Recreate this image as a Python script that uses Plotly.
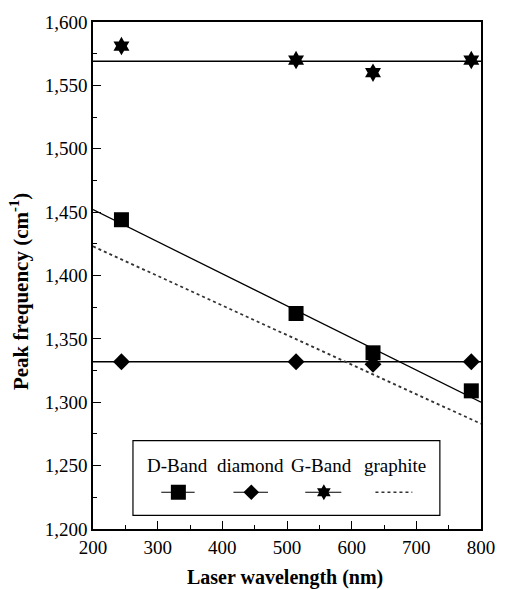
import plotly.graph_objects as go

# ---- data ----
wavelength = [244, 514, 633, 785]
d_band = [1444, 1370, 1339, 1309]
diamond = [1332, 1332, 1330, 1332]
g_band = [1581, 1570, 1560, 1570]

fit_x = [200, 800]
d_band_fit = [1452, 1300]
diamond_fit = [1332, 1332]
g_band_fit = [1569, 1569]
graphite = [1423, 1283]

legend_names = ["D-Band", "diamond", "G-Band", "graphite"]

FONT = "'Liberation Serif', 'Times New Roman', Times, serif"
fig = go.Figure()

# fit lines
fig.add_trace(go.Scatter(x=fit_x, y=g_band_fit, mode="lines", line=dict(color="black", width=1.5), showlegend=False))
fig.add_trace(go.Scatter(x=fit_x, y=diamond_fit, mode="lines", line=dict(color="black", width=1.5), showlegend=False))
fig.add_trace(go.Scatter(x=fit_x, y=d_band_fit, mode="lines", line=dict(color="black", width=1.3), showlegend=False))
fig.add_trace(go.Scatter(x=fit_x, y=graphite, mode="lines", line=dict(color="#333", width=1.8, dash="dot"), showlegend=False))

# data points
fig.add_trace(go.Scatter(x=wavelength, y=d_band, mode="markers",
                         marker=dict(symbol="square", size=15, color="black"), showlegend=False))
fig.add_trace(go.Scatter(x=wavelength, y=diamond, mode="markers",
                         marker=dict(symbol="diamond", size=13, color="black"), showlegend=False))
fig.add_trace(go.Scatter(x=wavelength, y=g_band, mode="markers",
                         marker=dict(symbol="hexagram", size=14, color="black"), showlegend=False))

# custom legend (in overlay axis with 0..1 range over the plot area)
sym_y = 0.0725
samples = [
    ((0.176, 0.262), 0.220, "square", 15),
    ((0.362, 0.451), 0.408, "diamond", 12),
    ((0.547, 0.640), 0.595, "hexagram", 12),
]
for (x0, x1), xm, sym, sz in samples:
    fig.add_trace(go.Scatter(x=[x0, x1], y=[sym_y, sym_y], mode="lines", xaxis="x2", yaxis="y2",
                             line=dict(color="black", width=1.2), showlegend=False))
    fig.add_trace(go.Scatter(x=[xm], y=[sym_y], mode="markers", xaxis="x2", yaxis="y2",
                             marker=dict(symbol=sym, size=sz, color="black"), showlegend=False))
fig.add_trace(go.Scatter(x=[0.728, 0.823], y=[sym_y, sym_y], mode="lines", xaxis="x2", yaxis="y2",
                         line=dict(color="#333", width=1.5, dash="dot"), showlegend=False))

fig.add_shape(type="rect", xref="paper", yref="paper", x0=0.103, x1=0.894, y0=0.027, y1=0.1745,
              line=dict(color="black", width=1.2), fillcolor="rgba(0,0,0,0)")
for name, xc in zip(legend_names, [0.219, 0.405, 0.588, 0.778]):
    fig.add_annotation(x=xc, y=0.1255, xref="paper", yref="paper", text=name, showarrow=False,
                       xanchor="center", yanchor="middle",
                       font=dict(family=FONT, size=19, color="black"))

# axis titles as annotations for precise placement
fig.add_annotation(x=-0.189, y=0.4686, xref="paper", yref="paper", textangle=-90,
                   text="<b>Peak frequency (cm<sup>-1</sup>)</b>", showarrow=False,
                   xanchor="center", yanchor="middle",
                   font=dict(family=FONT, size=21, color="black"))
fig.add_annotation(x=0.496, y=-0.096, xref="paper", yref="paper",
                   text="<b>Laser wavelength (nm)</b>", showarrow=False,
                   xanchor="center", yanchor="middle",
                   font=dict(family=FONT, size=20, color="black"))

axis_common = dict(showline=True, linecolor="black", linewidth=1.5, mirror=True,
                   ticks="inside", ticklen=8, tickcolor="black", tickwidth=1,
                   showgrid=False, zeroline=False,
                   tickfont=dict(family=FONT, size=19, color="black"))

fig.update_layout(
    width=507, height=590,
    margin=dict(l=93, r=17, t=19, b=61),
    plot_bgcolor="white", paper_bgcolor="white",
    font=dict(family=FONT, size=19, color="black"),
    xaxis=dict(range=[200, 800], dtick=100, tick0=200,
               minor=dict(ticks="inside", ticklen=4, dtick=50, tickcolor="black"),
               **axis_common),
    yaxis=dict(range=[1200, 1600], dtick=50, tick0=1200, tickformat=",",
               minor=dict(ticks="inside", ticklen=4, dtick=25, tickcolor="black"),
               **axis_common),
    xaxis2=dict(range=[0, 1], overlaying="x", visible=False, anchor="y2"),
    yaxis2=dict(range=[0, 1], overlaying="y", visible=False, anchor="x2"),
)

fig.write_html("out.html")
